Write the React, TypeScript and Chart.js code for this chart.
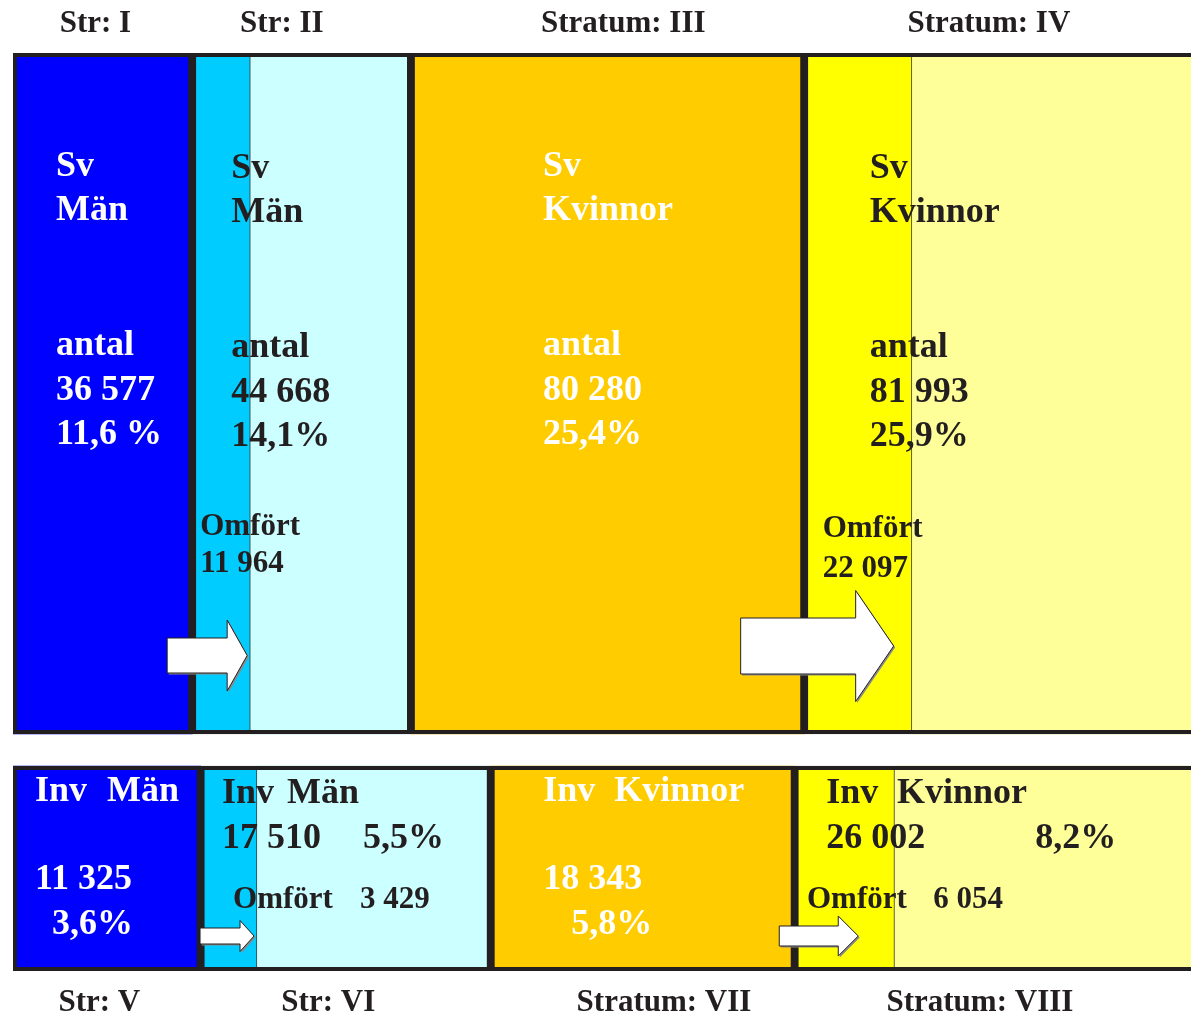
import React, { useEffect, useRef } from 'react';
import { Chart, registerables } from 'chart.js';

Chart.register(...registerables);

// ---------- data ----------
const topStrata = ['Str: I', 'Str: II', 'Stratum: III', 'Stratum: IV'];
const bottomStrata = ['Str: V', 'Str: VI', 'Stratum: VII', 'Stratum: VIII'];
const groups = ['Män', 'Män', 'Kvinnor', 'Kvinnor'];
const rowPrefixes = ['Sv', 'Inv'];
const svCounts = [36577, 44668, 80280, 81993];
const svPercent = ['11,6 %', '14,1%', '25,4%', '25,9%'];
const svOmfort = [0, 11964, 0, 22097];
const invCounts = [11325, 17510, 18343, 26002];
const invPercent = ['3,6%', '5,5%', '5,8%', '8,2%'];
const invOmfort = [0, 3429, 0, 6054];
const countWord = 'antal';
const omfortWord = 'Omfört';

// ---------- layout / style ----------
const W = 1191;
const H = 1017;
const LEFT_PAD = 13;
const TOP_AXIS_H = 53;
const BOTTOM_AXIS_H = 46;
const ROW_THICK = [681, 205];
const X_MAX = [240500, 71100];
const FONT = "'Liberation Serif', 'Times New Roman', serif";
const DARK = '#231f20';
const baseColors = ['#0000ff', '#ccffff', '#ffcc00', '#ffff99'];
const omfortColors = ['#0000ff', '#00ccff', '#ffcc00', '#ffff00'];
const textColors = ['#ffffff', DARK, '#ffffff', DARK];
const tickFrac = [
  [0.46, 0.41, 0.54, 0.46],
  [0.46, 0.44, 0.57, 0.43],
];

// [contentKey, dx from box left, baseline dy from row top, font size]
type Item = [string, number, number, number?];
const textLayout: Item[][][] = [
  [
    [['prefix', 43, 123], ['group', 43, 167], ['antal', 43, 302], ['count', 43, 347], ['pct', 43, 391]],
    [['prefix', 39, 125], ['group', 39, 169], ['antal', 39, 304], ['count', 39, 349], ['pct', 39, 393], ['omf', 8, 482, 31], ['omfCount', 8, 519, 31]],
    [['prefix', 132, 123], ['group', 132, 167], ['antal', 132, 302], ['count', 132, 347], ['pct', 132, 391]],
    [['prefix', 65.5, 125], ['group', 65.5, 169], ['antal', 65.5, 304], ['count', 65.5, 349], ['pct', 65.5, 393], ['omf', 18.5, 484, 31], ['omfCount', 18.5, 524, 31]],
  ],
  [
    [['prefix', 22, 35], ['group', 94, 35], ['count', 22, 123], ['pct', 39, 168]],
    [['prefix', 21.4, 37], ['group', 86.4, 37], ['count', 21.4, 82], ['pct', 162.4, 82], ['omf', 32.4, 142, 31], ['omfCount', 159.4, 142, 31]],
    [['prefix', 52.4, 35], ['group', 123.4, 35], ['count', 52.4, 123], ['pct', 80.4, 168]],
    [['prefix', 31.6, 37], ['group', 102.3, 37], ['count', 31.6, 82], ['pct', 240.6, 82], ['omf', 12.3, 142, 31], ['omfCount', 138.6, 142, 31]],
  ],
];

// block arrows anchored at a stratum's left edge
const arrowLayout = [
  { row: 0, stratum: 1, x0: -25, x1: 35, x2: 55, cy: 602.5, sh: 17.5, hh: 35.5 },
  { row: 0, stratum: 3, x0: -63.5, x1: 51.5, x2: 89.5, cy: 593, sh: 28, hh: 55.5 },
  { row: 1, stratum: 1, x0: -0.6, x1: 39.4, x2: 53.4, cy: 170, sh: 8, hh: 15.5 },
  { row: 1, stratum: 3, x0: -15.4, x1: 43.6, x2: 63.6, cy: 170, sh: 10, hh: 20 },
];

const fmt = (n: number) => String(n).replace(/\B(?=(\d{3})+(?!\d))/g, ' ');

const rows = [
  { counts: svCounts, omfort: svOmfort, pct: svPercent, axis: 'xTop', labels: topStrata },
  { counts: invCounts, omfort: invOmfort, pct: invPercent, axis: 'xBot', labels: bottomStrata },
];

function starts(counts: number[]) {
  let s = 0;
  return counts.map((c) => {
    const r = s;
    s += c;
    return r;
  });
}

function segments(counts: number[], omfort: number[]) {
  const st = starts(counts);
  const ranges: number[][] = [];
  const colors: string[] = [];
  const widths: any[] = [];
  counts.forEach((c, i) => {
    const s = st[i];
    if (omfort[i] > 0) {
      ranges.push([s, s + omfort[i]]);
      colors.push(omfortColors[i]);
      widths.push({ top: 0, left: 0, bottom: 0, right: 1.5 });
      ranges.push([s + omfort[i], s + c]);
      colors.push(baseColors[i]);
      widths.push(0);
    } else {
      ranges.push([s, s + c]);
      colors.push(baseColors[i]);
      widths.push(0);
    }
  });
  return { ranges, colors, widths };
}

function content(r: number, i: number, key: string) {
  const row = rows[r];
  switch (key) {
    case 'prefix': return rowPrefixes[r];
    case 'group': return groups[i];
    case 'antal': return countWord;
    case 'count': return fmt(row.counts[i]);
    case 'pct': return row.pct[i];
    case 'omf': return omfortWord;
    case 'omfCount': return fmt(row.omfort[i]);
    default: return '';
  }
}

export default function App() {
  const ref = useRef<HTMLCanvasElement>(null);

  useEffect(() => {
    if (!ref.current) return;
    const plotH = H - TOP_AXIS_H - BOTTOM_AXIS_H;
    const c0 = ROW_THICK[0] / 2;
    const c1 = plotH - ROW_THICK[1] / 2;
    const unit = c1 - c0;
    const yMin = -c0 / unit;
    const yMax = yMin + plotH / unit;

    const datasets: any[] = [];
    const frameIdx: number[] = [];
    rows.forEach((row, r) => {
      const seg = segments(row.counts, row.omfort);
      datasets.push({
        label: rowPrefixes[r] + ' fill',
        data: seg.ranges.map((x) => ({ x, y: r })),
        xAxisID: row.axis,
        yAxisID: 'y',
        backgroundColor: seg.colors,
        borderColor: '#3a3a3a',
        borderWidth: (ctx: any) => seg.widths[ctx.dataIndex] ?? 0,
        borderSkipped: false,
        barThickness: ROW_THICK[r],
        grouped: false,
        order: 1,
      });
      const st = starts(row.counts);
      frameIdx.push(datasets.length);
      datasets.push({
        label: rowPrefixes[r],
        data: row.counts.map((c, i) => ({ x: [st[i], st[i] + c], y: r })),
        xAxisID: row.axis,
        yAxisID: 'y',
        backgroundColor: 'rgba(0,0,0,0)',
        borderColor: DARK,
        borderWidth: 3.6,
        borderSkipped: false,
        barThickness: ROW_THICK[r],
        grouped: false,
        order: 0,
      });
    });

    const xAxis = (r: number, position: string, height: number, padding: number) => {
      const row = rows[r];
      const st = starts(row.counts);
      return {
        type: 'linear',
        position,
        min: 0,
        max: X_MAX[r],
        offset: false,
        grid: { display: false, drawTicks: false },
        border: { display: false },
        afterBuildTicks: (scale: any) => {
          scale.ticks = row.counts.map((c, i) => ({ value: st[i] + tickFrac[r][i] * c }));
        },
        afterFit: (scale: any) => {
          scale.height = height;
        },
        ticks: {
          autoSkip: false,
          maxRotation: 0,
          minRotation: 0,
          padding,
          color: DARK,
          font: { family: FONT, size: 31, weight: 'bold' },
          callback: (_v: any, idx: number) => row.labels[idx],
        },
      };
    };

    const textPlugin = {
      id: 'mosaicText',
      afterDatasetsDraw(chart: any) {
        const ctx = chart.ctx;
        const boxes = rows.map((_row, r) =>
          chart.getDatasetMeta(frameIdx[r]).data.map((el: any) => {
            const p = el.getProps(['x', 'y', 'base', 'height'], true);
            return { left: Math.min(p.x, p.base), top: p.y - p.height / 2 };
          })
        );
        ctx.save();
        arrowLayout.forEach((a) => {
          const b = boxes[a.row][a.stratum];
          const x0 = b.left + a.x0;
          const x1 = b.left + a.x1;
          const x2 = b.left + a.x2;
          const cy = b.top + a.cy;
          const path = (ox: number, oy: number) => {
            ctx.beginPath();
            ctx.moveTo(x0 + ox, cy - a.sh + oy);
            ctx.lineTo(x1 + ox, cy - a.sh + oy);
            ctx.lineTo(x1 + ox, cy - a.hh + oy);
            ctx.lineTo(x2 + ox, cy + oy);
            ctx.lineTo(x1 + ox, cy + a.hh + oy);
            ctx.lineTo(x1 + ox, cy + a.sh + oy);
            ctx.lineTo(x0 + ox, cy + a.sh + oy);
            ctx.closePath();
          };
          path(1.5, 1.5);
          ctx.fillStyle = '#8a8a8a';
          ctx.fill();
          path(0, 0);
          ctx.fillStyle = '#ffffff';
          ctx.fill();
          ctx.lineWidth = 1;
          ctx.strokeStyle = DARK;
          ctx.stroke();
        });
        ctx.textAlign = 'left';
        ctx.textBaseline = 'alphabetic';
        textLayout.forEach((rowLayout, r) => {
          rowLayout.forEach((items, i) => {
            const b = boxes[r][i];
            ctx.fillStyle = textColors[i];
            items.forEach(([key, dx, dy, size]) => {
              ctx.font = `bold ${size || 36}px ${FONT}`;
              ctx.fillText(content(r, i, key), b.left + dx, b.top + dy);
            });
          });
        });
        ctx.restore();
      },
    };

    const chart = new Chart(ref.current, {
      type: 'bar',
      data: { datasets },
      options: {
        indexAxis: 'y',
        responsive: false,
        animation: false,
        devicePixelRatio: 1,
        layout: { padding: { left: LEFT_PAD, right: 0, top: 0, bottom: 0 } },
        plugins: { legend: { display: false }, tooltip: { enabled: false } },
        scales: {
          xTop: xAxis(0, 'top', TOP_AXIS_H, 10),
          xBot: xAxis(1, 'bottom', BOTTOM_AXIS_H, 13),
          y: { type: 'linear', display: false, min: yMin, max: yMax, reverse: true, offset: false },
        },
      } as any,
      plugins: [textPlugin],
    });
    return () => chart.destroy();
  }, []);

  return (
    <div style={{ position: 'absolute', left: 0, top: 0, width: W, height: H, background: '#ffffff' }}>
      <canvas ref={ref} width={W} height={H} style={{ display: 'block' }} />
    </div>
  );
}
